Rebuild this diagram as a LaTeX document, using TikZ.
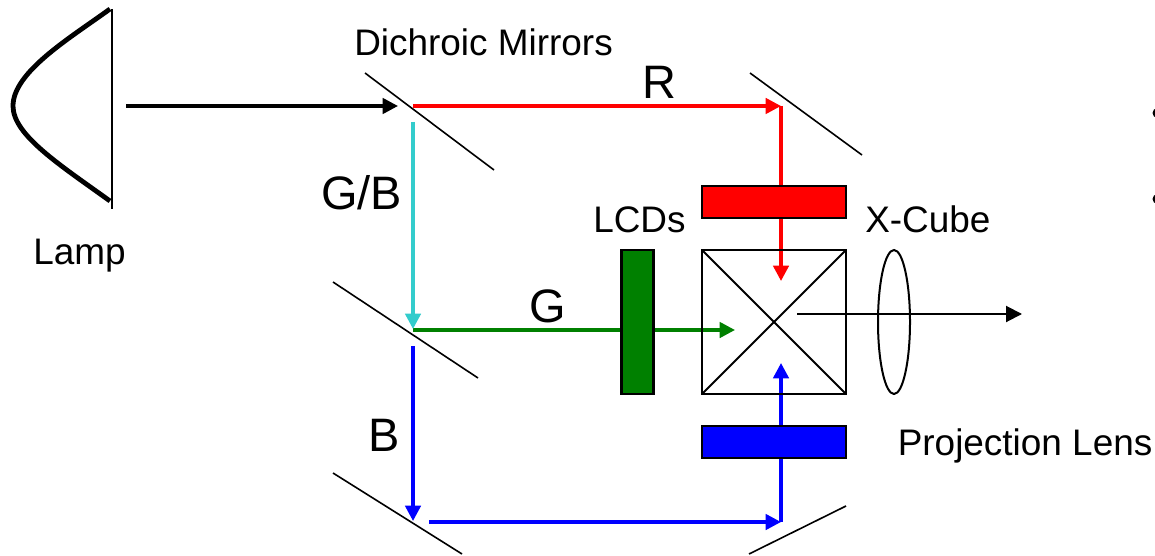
\documentclass[tikz,border=0pt]{standalone}
\usepackage{fontspec}
\setmainfont{Liberation Sans}
\usetikzlibrary{arrows.meta,shapes.geometric}
\definecolor{beamcyan}{HTML}{33CCCC}
\definecolor{beamgreen}{HTML}{008000}
\tikzset{
  thinline/.style={draw=black,line width=1.5pt},
  mirrorline/.style={draw=black,line width=1.2pt},
  beam/.style={line width=2.6pt,-{Triangle[length=11.5pt,width=11.5pt]}},
  lcdbox/.style={draw=black,line width=1.6pt,inner sep=0pt,outer sep=0pt},
  smalllabel/.style={anchor=base west,inner sep=0pt,font=\fontsize{27.7pt}{32pt}\selectfont},
  biglabel/.style={anchor=base west,inner sep=0pt,font=\fontsize{35.2pt}{40pt}\selectfont},
}
\begin{document}
\begin{tikzpicture}[x=0.75pt,y=-0.75pt]
\useasboundingbox (0,0) rectangle (1155,556);
% coordinates
\coordinate (lampA) at (110,9);
\coordinate (lampB) at (110,201);
\coordinate (lampTop) at (112,9);
\coordinate (lampBot) at (112,209);
\coordinate (srcStart) at (126,106);
\coordinate (srcEnd) at (398,106);
\coordinate (m1a) at (365,73);
\coordinate (m1b) at (494,170);
\coordinate (m2a) at (750,73);
\coordinate (m2b) at (862,155);
\coordinate (m3a) at (333,282);
\coordinate (m3b) at (478,378);
\coordinate (m4a) at (333,473);
\coordinate (m4b) at (462,554);
\coordinate (m5a) at (749,554);
\coordinate (m5b) at (846,506);
\coordinate (redStart) at (413,106);
\coordinate (redCorner) at (781,106);
\coordinate (redEnd) at (781,281);
\coordinate (cyanStart) at (413,122);
\coordinate (cyanEnd) at (413,329);
\coordinate (greenStart) at (413,330);
\coordinate (greenEnd) at (735,330);
\coordinate (blueStart) at (413,346);
\coordinate (blueEnd) at (413,521);
\coordinate (blueHStart) at (429,522);
\coordinate (blueCorner) at (781,522);
\coordinate (blueUpEnd) at (781,363);
\coordinate (outStart) at (797,314);
\coordinate (outEnd) at (1022,314);
% beams under the panels
\draw[beam,draw=beamgreen,fill=beamgreen] (greenStart) -- (greenEnd);
\draw[beam,red] (redCorner) -- (redEnd);
\draw[beam,blue] (blueCorner) -- (blueUpEnd);
% panels
\node[lcdbox,fill=red,minimum width=108pt,minimum height=24pt] (lcdR) at (774,202) {};
\node[lcdbox,fill=blue,minimum width=108pt,minimum height=24pt] (lcdB) at (774,442) {};
\node[lcdbox,fill=beamgreen,minimum width=24pt,minimum height=108pt] (lcdG) at (637.5,322) {};
% x-cube
\node[lcdbox,minimum width=108pt,minimum height=108pt] (cube) at (774,322) {};
\draw[thinline] (cube.north west) -- (cube.south east);
\draw[thinline] (cube.north east) -- (cube.south west);
% lens
\node[ellipse,draw=black,line width=1.5pt,inner sep=0pt,outer sep=0pt,minimum width=24pt,minimum height=108pt] (lens) at (894,322) {};
% output
\draw[line width=1.5pt,-{Triangle[length=12pt,width=12pt]}] (outStart) -- (outEnd);
% lamp
\draw[line width=3.6pt] (lampA) .. controls (70,38) and (13,72) .. (13,106) .. controls (13,135) and (60,165) .. (lampB);
\draw[mirrorline] (lampTop) -- (lampBot);
% mirrors
\draw[mirrorline] (m1a) -- (m1b);
\draw[mirrorline] (m2a) -- (m2b);
\draw[mirrorline] (m3a) -- (m3b);
\draw[mirrorline] (m4a) -- (m4b);
\draw[mirrorline] (m5a) -- (m5b);
% beams
\draw[beam,black] (srcStart) -- (srcEnd);
\draw[beam,red] (redStart) -- (redCorner);
\draw[beam,beamcyan] (cyanStart) -- (cyanEnd);
\draw[beam,blue] (blueStart) -- (blueEnd);
\draw[beam,blue] (blueHStart) -- (blueCorner);
% labels
\node[smalllabel] (tDich) at (354,56) {Dichroic Mirrors};
\node[smalllabel] (tLamp) at (33,264) {Lamp};
\node[smalllabel] (tLCD) at (593,232) {LCDs};
\node[smalllabel] (tCube) at (865,232) {X-Cube};
\node[smalllabel] (tProj) at (897.5,455) {Projection Lens};
\node[biglabel] (tR) at (642,99) {R};
\node[biglabel] (tGB) at (321,209) {G/B};
\node[biglabel] (tG) at (529,322) {G};
\node[biglabel] (tB) at (368,451) {B};
% clipped bullets at the right edge
\begin{scope}
\clip (1140,0) rectangle (1155,556);
\fill[black] (1157.5,113) circle[radius=5];
\fill[black] (1157.5,199) circle[radius=5];
\end{scope}
\end{tikzpicture}
\end{document}
